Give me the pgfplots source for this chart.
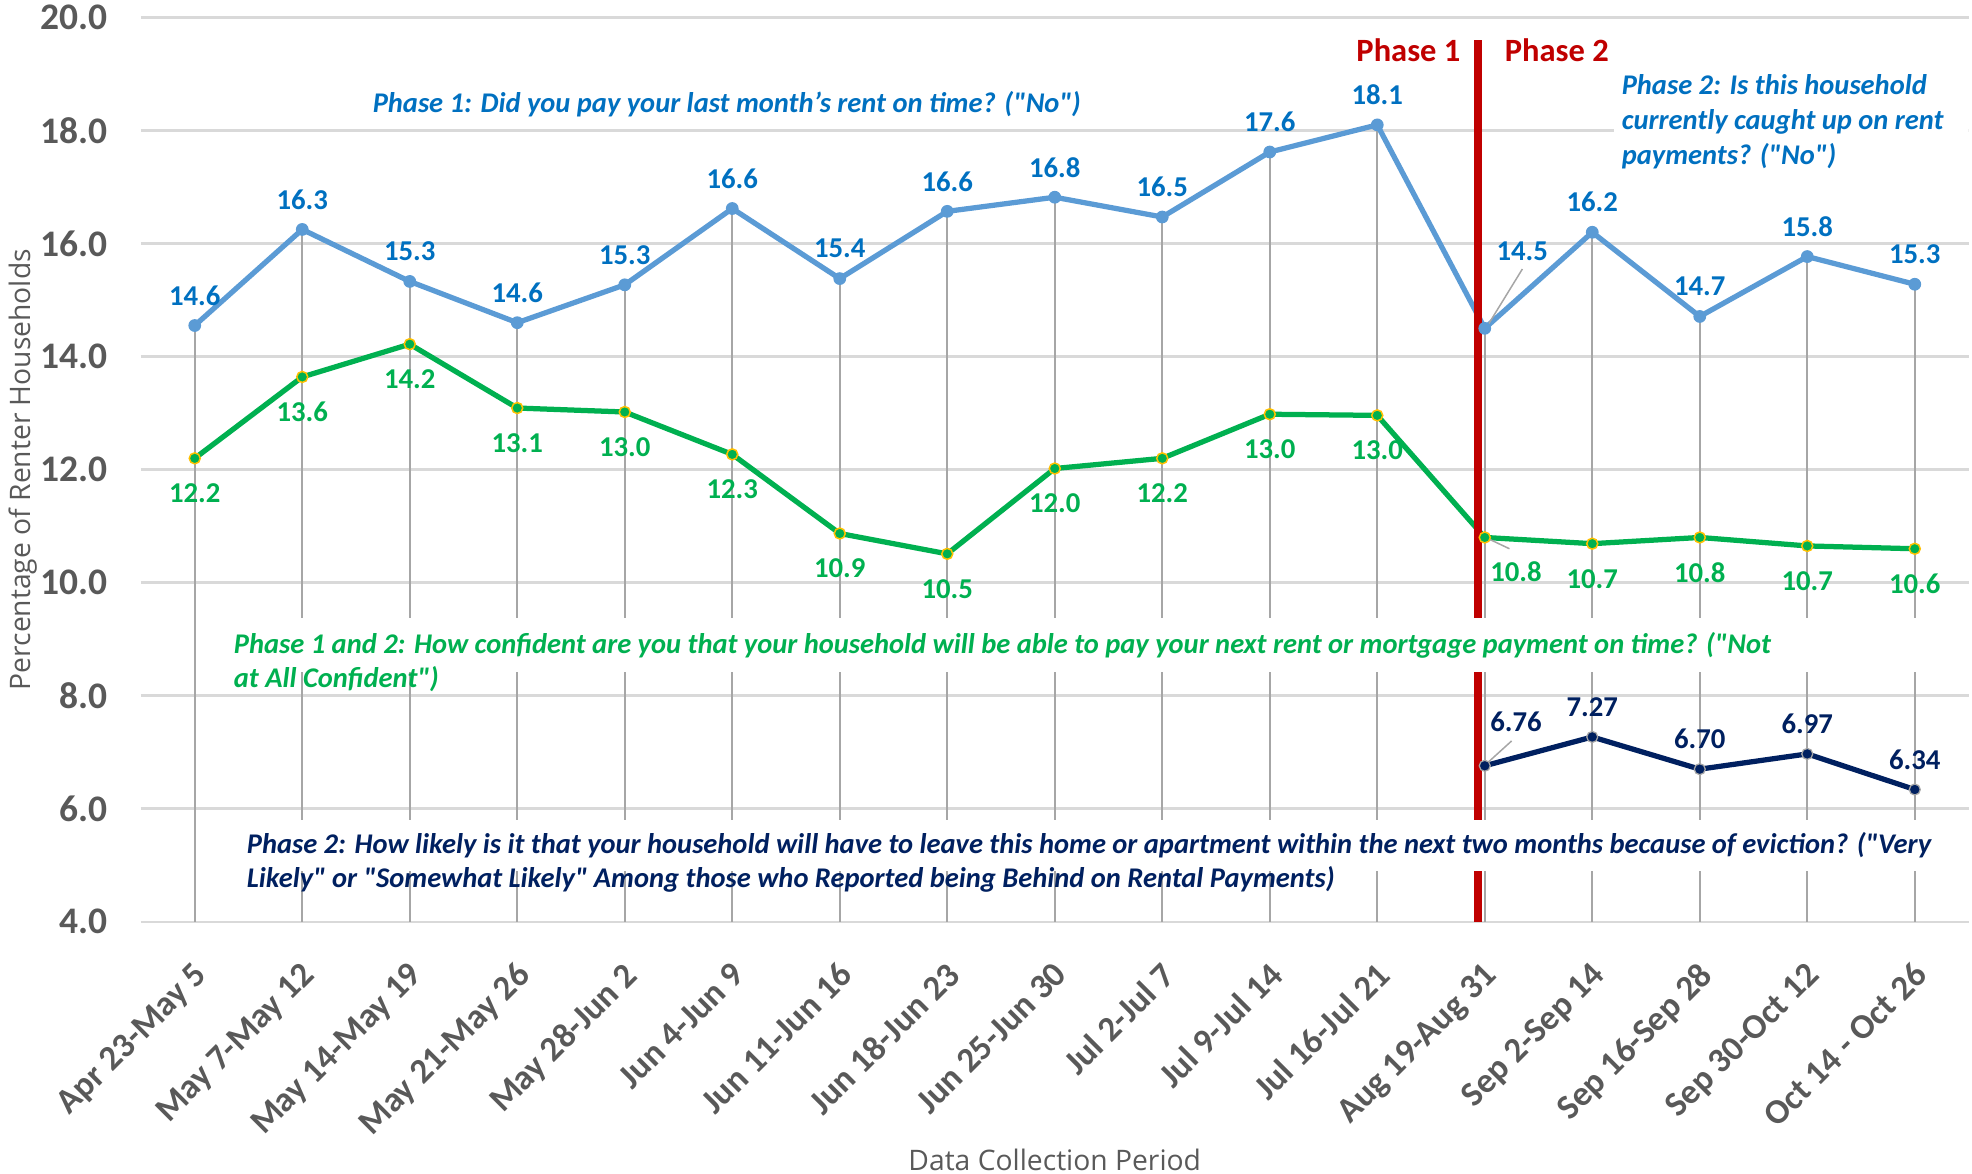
\documentclass[border=0pt]{standalone}
\usepackage{pgfplots}
\pgfplotsset{compat=1.18}
\usepackage{fontspec}
\setmainfont{Carlito}
\newfontfamily\carl{Carlito}
\newfontfamily\opensans{Open Sans}
\def\dq{\char34\relax}
\definecolor{bluel}{HTML}{5B9BD5}
\definecolor{bluet}{HTML}{0070C0}
\definecolor{greenl}{HTML}{00B050}
\definecolor{navy}{HTML}{002060}
\definecolor{darkred}{HTML}{C00000}
\definecolor{tickgray}{HTML}{595959}
\definecolor{gridgray}{HTML}{D9D9D9}
\definecolor{dropgray}{HTML}{A6A6A6}
\definecolor{gold}{HTML}{FFC000}
\begin{document}
\begin{tikzpicture}
\useasboundingbox (-56.4pt,-100.8pt) rectangle (732.4pt,368.7pt);
\begin{axis}[
  scale only axis, width=731pt, height=361.7pt,
  xmin=-0.5, xmax=16.5, ymin=4, ymax=20,
  axis line style={draw=none},
  major tick length=0pt,
  ymajorgrids, grid style={gridgray, line width=1pt},
  ytick={4,6,...,20},
  xtick={0,...,16},
  xticklabels={Apr 23-May 5, May 7-May 12, May 14-May 19, May 21-May 26, May 28-Jun 2, Jun 4-Jun 9, Jun 11-Jun 16, Jun 18-Jun 23, Jun 25-Jun 30, Jul 2-Jul 7, Jul 9-Jul 14, Jul 16-Jul 21, Aug 19-Aug 31, Sep 2-Sep 14, Sep 16-Sep 28, Sep 30-Oct 12, Oct 14 - Oct 26},
  /pgf/number format/assume math mode=true,
  yticklabel style={/pgf/number format/.cd, fixed, fixed zerofill, precision=1, /tikz/.cd,
     font=\bfseries\fontsize{15}{17}\selectfont, text=tickgray, xshift=-10pt},
  xticklabel style={xshift=-1pt, yshift=-10.5pt, rotate=45, anchor=north east,
     font=\bfseries\fontsize{14}{16}\selectfont, text=tickgray},
  xlabel={Data Collection Period},
  ylabel={Percentage of Renter Households},
  xlabel style={at={(axis description cs:0.5,-0.263)}, anchor=center, font=\opensans\fontsize{11.3}{13}\selectfont, text=tickgray},
  ylabel style={at={(axis description cs:-0.0647,0.5)}, anchor=center, font=\opensans\fontsize{11.3}{13}\selectfont, text=tickgray},
]
% drop lines
\addplot[ycomb, dropgray, line width=0.8pt, mark=none] coordinates {
(0,14.55) (1,16.25) (2,15.33) (3,14.6) (4,15.27) (5,16.62) (6,15.38) (7,16.57) (8,16.82) (9,16.47) (10,17.62) (11,18.1) (12,14.5) (13,16.2) (14,14.71) (15,15.77) (16,15.28)};
% series lines
\addplot[bluel, line width=2.1pt, mark=*, mark size=2.3pt, mark options={fill=bluel, draw=bluel, line width=0.5pt}] coordinates {
(0,14.55) (1,16.25) (2,15.33) (3,14.6) (4,15.27) (5,16.62) (6,15.38) (7,16.57) (8,16.82) (9,16.47) (10,17.62) (11,18.1) (12,14.5) (13,16.2) (14,14.71) (15,15.77) (16,15.28)};
\addplot[greenl, line width=2.1pt, mark=*, mark size=2.2pt, mark options={fill=greenl, draw=gold, line width=0.6pt}] coordinates {
(0,12.2) (1,13.64) (2,14.22) (3,13.09) (4,13.02) (5,12.27) (6,10.87) (7,10.51) (8,12.02) (9,12.2) (10,12.98) (11,12.96) (12,10.8) (13,10.69) (14,10.8) (15,10.65) (16,10.6)};
\addplot[navy, line width=2.1pt, mark=*, mark size=2.2pt, mark options={fill=navy, draw=dropgray, line width=0.5pt}] coordinates {
(12,6.76) (13,7.27) (14,6.70) (15,6.97) (16,6.34)};
% phase divider
\draw[darkred, line width=3.3pt] (axis cs:11.94,19.6) -- (axis cs:11.94,3.9);
% white text boxes
\fill[white] (axis cs:0.25,8.42) rectangle (axis cs:16.27,9.38);
\fill[white] (axis cs:0.25,4.89) rectangle (axis cs:16.27,5.8);
\fill[white] (axis cs:13.2,17.3) rectangle (axis cs:16.5,19.3);
% data labels
\addplot[draw=none, mark=none, nodes near coords, point meta=explicit symbolic,
  every node near coord/.style={font=\bfseries\fontsize{11.5}{13}\selectfont, text=bluet, anchor=center, yshift=12pt}] coordinates {
(0,14.55)[14.6] (1,16.25)[16.3] (2,15.33)[15.3] (3,14.6)[14.6] (4,15.27)[15.3] (5,16.62)[16.6] (6,15.38)[15.4] (7,16.57)[16.6] (8,16.82)[16.8] (9,16.47)[16.5] (10,17.62)[17.6] (11,18.1)[18.1] (13,16.2)[16.2] (14,14.71)[14.7] (15,15.77)[15.8] (16,15.28)[15.3]};
\addplot[draw=none, mark=none, nodes near coords, point meta=explicit symbolic,
  every node near coord/.style={font=\bfseries\fontsize{11.5}{13}\selectfont, text=bluet, anchor=center, xshift=15pt, yshift=30.7pt}] coordinates {(12,14.5)[14.5]};
\addplot[draw=none, mark=none, nodes near coords, point meta=explicit symbolic,
  every node near coord/.style={font=\bfseries\fontsize{11.5}{13}\selectfont, text=greenl, anchor=center, yshift=-14pt}] coordinates {
(0,12.2)[12.2] (1,13.64)[13.6] (2,14.22)[14.2] (3,13.09)[13.1] (4,13.02)[13.0] (5,12.27)[12.3] (6,10.87)[10.9] (7,10.51)[10.5] (8,12.02)[12.0] (9,12.2)[12.2] (10,12.98)[13.0] (11,12.96)[13.0] (13,10.69)[10.7] (14,10.8)[10.8] (15,10.65)[10.7] (16,10.6)[10.6]};
\addplot[draw=none, mark=none, nodes near coords, point meta=explicit symbolic,
  every node near coord/.style={font=\bfseries\fontsize{11.5}{13}\selectfont, text=greenl, anchor=center, xshift=12.5pt, yshift=-13.6pt}] coordinates {(12,10.8)[10.8]};
\addplot[draw=none, mark=none, nodes near coords, point meta=explicit symbolic,
  every node near coord/.style={font=\bfseries\fontsize{11.5}{13}\selectfont, text=navy, anchor=center, yshift=12pt}] coordinates {
(13,7.27)[7.27] (14,6.70)[6.70] (15,6.97)[6.97] (16,6.34)[6.34]};
\addplot[draw=none, mark=none, nodes near coords, point meta=explicit symbolic,
  every node near coord/.style={font=\bfseries\fontsize{11.5}{13}\selectfont, text=navy, anchor=center, xshift=12.5pt, yshift=17.4pt}] coordinates {(12,6.76)[6.76]};
% leader lines
\draw[dropgray, line width=0.6pt] (axis cs:12.03,14.56) -- (axis cs:12.35,15.55);
\draw[dropgray, line width=0.6pt] (axis cs:12.03,10.78) -- (axis cs:12.23,10.6);
\draw[dropgray, line width=0.6pt] (axis cs:12.03,6.82) -- (axis cs:12.25,7.2);
% phase labels
\node[text=darkred, font=\bfseries\fontsize{13}{15}\selectfont] at (axis cs:11.29,19.42) {Phase 1};
\node[text=darkred, font=\bfseries\fontsize{13}{15}\selectfont] at (axis cs:12.67,19.42) {Phase 2};
% annotations
\node[text=bluet, font=\carl\bfseries\itshape\fontsize{11.4}{14}\selectfont, inner sep=0pt] at (axis cs:4.95,18.47) {Phase 1: Did you pay your last month’s rent on time? ("No")};
\node[text=bluet, font=\carl\bfseries\itshape\fontsize{11.4}{13.9}\selectfont, inner sep=0pt, anchor=west, align=left] at (axis cs:13.27,18.16) {Phase 2: Is this household\\currently caught up on rent\\payments? ("No")};
\node[text=greenl, font=\carl\bfseries\itshape\fontsize{11.4}{13.6}\selectfont, inner sep=0pt, anchor=west, align=left] at (axis cs:0.36,8.59) {Phase 1 and 2: How confident are you that your household will be able to pay your next rent or mortgage payment on time? ("Not\\at All Confident")};
\node[text=navy, font=\carl\bfseries\itshape\fontsize{11.4}{13.6}\selectfont, inner sep=0pt, anchor=west, align=left] at (axis cs:0.48,5.056) {Phase 2: How likely is it that your household will have to leave this home or apartment within the next two months because of eviction? ("Very\\Likely" or "Somewhat Likely" Among those who Reported being Behind on Rental Payments)};
\end{axis}
\end{tikzpicture}
\end{document}
